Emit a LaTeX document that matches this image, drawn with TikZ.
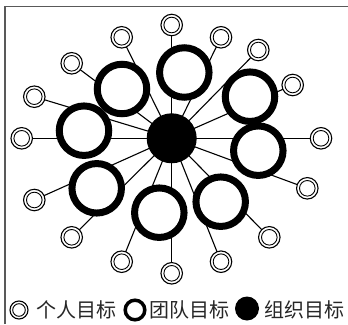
\documentclass[tikz,border=0pt]{standalone}
\usepackage{fontspec}
\newfontfamily\cjk{Noto Sans CJK SC}
\begin{document}
\begin{tikzpicture}[x=1pt,y=-1pt,
  link/.style={line width=1.1pt,black},
  teamring/.style={circle,draw=black,line width=7pt,fill=white,minimum size=49.5pt,inner sep=0pt},
  personring/.style={circle,draw=black,line width=1.1pt,fill=white,minimum size=21.5pt,inner sep=0pt},
  personinner/.style={line width=0.9pt,draw=black},
  orgdisk/.style={circle,fill=black,minimum size=50pt,inner sep=0pt},
  legendtext/.style={font=\cjk\fontsize{20pt}{22pt}\selectfont,text=black!85,inner sep=0pt,anchor=west}]
\useasboundingbox (0,0) rectangle (348,324);
\draw[line width=1.3pt,black!65] (5,324) -- (5,6.7) -- (348,6.7);
% central coordinate
\coordinate (c) at (171.7,138.3);
% person coordinates
\coordinate (pa) at (171.7,25);
\coordinate (pb) at (121.7,37.3);
\coordinate (pc) at (221,37.3);
\coordinate (pd) at (258.3,50);
\coordinate (pe) at (71.7,63.3);
\coordinate (pf) at (34.3,96.7);
\coordinate (pg) at (292.7,85);
\coordinate (ph) at (21.7,138.3);
\coordinate (pi) at (321,138.3);
\coordinate (pj) at (34.3,200);
\coordinate (pk) at (307.3,188.3);
\coordinate (pl) at (71.7,237.3);
\coordinate (pm) at (269.3,237.3);
\coordinate (pn) at (121.7,261.7);
\coordinate (po) at (221,261.7);
\coordinate (pp) at (171.7,273.3);
\foreach \p in {pa,pb,pc,pd,pe,pf,pg,ph,pi,pj,pk,pl,pm,pn,po,pp}
  \draw[link] (c) -- (\p);
% team rings
\node[teamring] (t1) at (184.3,72.5) {};
\node[teamring] (t2) at (122,89) {};
\node[teamring] (t3) at (250,96.7) {};
\node[teamring] (t4) at (84,130.7) {};
\node[teamring] (t5) at (258.3,150.7) {};
\node[teamring] (t6) at (96.7,188.3) {};
\node[teamring] (t7) at (159.3,212.7) {};
\node[teamring] (t8) at (220.7,201.7) {};
% organisation
\node[orgdisk] (org) at (c) {};
% persons
\foreach \p in {pa,pb,pc,pd,pe,pf,pg,ph,pi,pj,pk,pl,pm,pn,po,pp}{
  \node[personring] (n\p) at (\p) {};
  \draw[personinner] (n\p.center) circle[radius=7.8pt];
}
% legend
\coordinate (lp) at (19,310);
\draw[line width=1.1pt,fill=white] (lp) circle[radius=9pt];
\draw[personinner] (lp) circle[radius=6.3pt];
\node[legendtext] (lpt) at (36,310) {个人目标};
\coordinate (lt) at (135,310);
\draw[line width=3.5pt] (lt) circle[radius=9.8pt];
\node[legendtext] (ltt) at (149,310) {团队目标};
\coordinate (lo) at (247,308.5);
\fill (lo) circle[radius=12pt];
\node[legendtext] (lot) at (264,310) {组织目标};
\end{tikzpicture}
\end{document}
